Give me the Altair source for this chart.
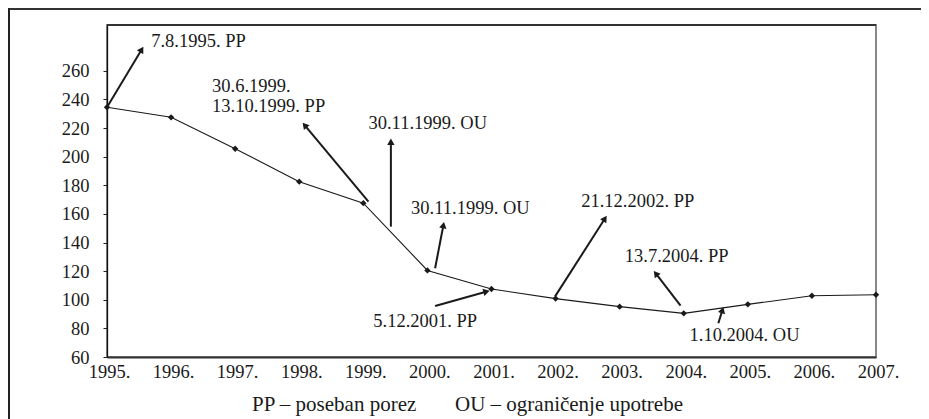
import math
import altair as alt
import pandas as pd

# ---- data ----
years = [1995, 1996, 1997, 1998, 1999, 2000, 2001, 2002, 2003, 2004, 2005, 2006, 2007]
values = [234.5, 227.5, 205.5, 182.5, 167.5, 120.5, 107.5, 100.8, 95.2, 90.5, 96.8, 102.8, 103.5]

y_ticks = [60, 80, 100, 120, 140, 160, 180, 200, 220, 240, 260]

ann_text = ["7.8.1995. PP", "30.6.1999.", "13.10.1999. PP", "30.11.1999. OU",
            "30.11.1999. OU", "5.12.2001. PP", "21.12.2002. PP", "13.7.2004. PP",
            "1.10.2004. OU"]
ann_x = [1995.69, 1996.64, 1996.64, 1999.08, 1999.745, 1999.155, 2002.40, 2003.08, 2004.09]
ann_y = [281.0, 249.5, 235.3, 223.4, 164.0, 85.0, 169.0, 130.4, 75.2]

arr_x0 = [1995.0, 1999.08, 1999.43, 2000.12, 2000.12, 2001.99, 2003.95, 2004.54]
arr_y0 = [234.5, 168.6, 151.1, 122.0, 95.7, 102.2, 95.9, 83.6]
arr_x1 = [1995.57, 1998.05, 1999.43, 2000.26, 2000.975, 2002.80, 2003.53, 2004.62]
arr_y1 = [277.0, 223.8, 212.9, 154.6, 106.4, 158.8, 120.3, 95.2]

footer_left = "PP – poseban porez"
footer_right = "OU – ograničenje upotrebe"

W, H = 769, 332
X_DOM = [1995, 2007]
Y_DOM = [60, 292]
FONT = "Liberation Serif"
FS = 18.5
INK = "#1a1a1a"

px_x = W / (X_DOM[1] - X_DOM[0])
px_y = H / (Y_DOM[1] - Y_DOM[0])

line_df = pd.DataFrame({"x": years, "y": values})
ann_df = pd.DataFrame({"x": ann_x, "y": ann_y, "t": ann_text})

rows = []
for x0, y0, x1, y1 in zip(arr_x0, arr_y0, arr_x1, arr_y1):
    dx = (x1 - x0) * px_x
    dy = -(y1 - y0) * px_y
    L = math.hypot(dx, dy)
    ux, uy = dx / L, dy / L
    ang = math.degrees(math.atan2(dx, -dy)) % 360
    hx = x1 - 3.5 * ux / px_x
    hy = y1 + 3.5 * uy / px_y
    lx = x1 - 5 * ux / px_x
    ly = y1 + 5 * uy / px_y
    rows.append({"x": x0, "y": y0, "x2": lx, "y2": ly, "hx": hx, "hy": hy, "ang": ang})
arr_df = pd.DataFrame(rows)

xscale = alt.Scale(domain=X_DOM, nice=False, zero=False)
yscale = alt.Scale(domain=Y_DOM, nice=False, zero=False)

xaxis = alt.Axis(values=years, labelExpr="datum.value + '.'", ticks=False, grid=False,
                 title=None, labelFont=FONT, labelFontSize=FS, labelColor=INK,
                 labelPadding=5, labelOffset=2, labelFlush=False, domainColor="#333",
                 domainWidth=2, labelOverlap=False)
yaxis = alt.Axis(values=y_ticks, format="d", tickSize=4, tickColor="#222", grid=False,
                 title=None, labelFont=FONT, labelFontSize=FS, labelColor=INK,
                 labelPadding=14, labelFlush=False, domainColor="#111", domainWidth=1.3)


def X(field="x"):
    return alt.X(f"{field}:Q", scale=xscale, axis=xaxis)


def Y(field="y"):
    return alt.Y(f"{field}:Q", scale=yscale, axis=yaxis)


line = alt.Chart(line_df).mark_line(color=INK, strokeWidth=1.1).encode(x=X(), y=Y())
pts = alt.Chart(line_df).mark_point(shape="diamond", filled=True, color=INK, size=40, opacity=1).encode(x=X(), y=Y())

arrows = alt.Chart(arr_df).mark_rule(color=INK, strokeWidth=2).encode(
    x=X("x"), y=Y("y"), x2="x2:Q", y2="y2:Q")
heads = alt.Chart(arr_df).mark_point(shape="triangle-up", filled=True, color=INK, size=55, opacity=1).encode(
    x=X("hx"), y=Y("hy"), angle=alt.Angle("ang:Q", scale=None))

labels = alt.Chart(ann_df).mark_text(align="left", baseline="middle", font=FONT, fontSize=FS, color=INK).encode(
    x=X(), y=Y(), text="t:N")

one = pd.DataFrame({"a": [0]})
plot_top = alt.Chart(one).mark_rule(color="#333", strokeWidth=2).encode(
    x=alt.value(0), x2=alt.value(W), y=alt.value(0))
frame_top = alt.Chart(one).mark_rule(color="#333", strokeWidth=2).encode(
    x=alt.value(-99), x2=alt.value(830), y=alt.value(-16))
frame_left = alt.Chart(one).mark_rule(color="#222", strokeWidth=2).encode(
    x=alt.value(-98), y=alt.value(-17), y2=alt.value(420))

foot1 = alt.Chart(one).mark_text(align="left", baseline="alphabetic", font=FONT, fontSize=21, color=INK,
                                 text=footer_left).encode(x=alt.value(145), y=alt.value(386))
foot2 = alt.Chart(one).mark_text(align="left", baseline="alphabetic", font=FONT, fontSize=21, color=INK,
                                 text=footer_right).encode(x=alt.value(348), y=alt.value(386))

chart = alt.layer(line, pts, arrows, heads, labels, plot_top, frame_top, frame_left, foot1, foot2).properties(
    width=W, height=H,
    padding={"left": 99, "top": 17, "right": 45, "bottom": 62},
    autosize=alt.AutoSizeParams(type="none"),
    background="white",
).configure_view(stroke="#888888", strokeWidth=2)

chart.save("out.html", embed_options={"renderer": "svg", "actions": False})
